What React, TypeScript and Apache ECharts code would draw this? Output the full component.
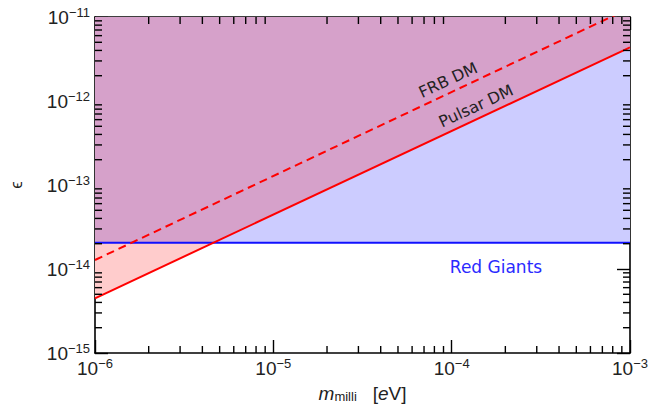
import React, { useEffect, useRef } from "react";
import * as echarts from "echarts";

// ---- data ----
const masses = [1e-6, 1e-3]; // eV
const pulsarEps = [4.48e-15, 4.36e-12];
const frbEps = [1.28e-14, 1.28e-11];
const redGiantEps = 2.05e-14;
const xTickExps = [-6, -5, -4, -3];
const yTickExps = [-15, -14, -13, -12, -11];
const minorMultipliers = [2, 3, 4, 5, 6, 7, 8, 9];

const L = Math.log10;
const FONT = "Liberation Sans, Arial, sans-serif";
const TXT_FONT = "DejaVu Sans, sans-serif";

export default function App() {
  const ref = useRef<HTMLDivElement>(null);
  useEffect(() => {
    if (!ref.current) return;
    const chart = echarts.init(ref.current, null, { renderer: "svg" });

    const xMin = xTickExps[0];
    const xMax = xTickExps[xTickExps.length - 1];
    const yMin = yTickExps[0];
    const yMax = yTickExps[yTickExps.length - 1];

    const pulsar = masses.map((m, i) => [L(m), L(pulsarEps[i])]);
    const frb = masses.map((m, i) => [L(m), L(frbEps[i])]);
    const yRG = L(redGiantEps);
    const rg = [[xMin, yRG], [xMax, yRG]];
    const slope = (pulsar[1][1] - pulsar[0][1]) / (pulsar[1][0] - pulsar[0][0]);
    const xc = pulsar[0][0] + (yRG - pulsar[0][1]) / slope;
    const envelope = [[xMin, yRG], [xc, yRG], pulsar[1]];

    const xMinor: number[][] = [];
    for (let d = xMin; d < xMax; d++)
      minorMultipliers.forEach((k) => xMinor.push([d + L(k), 0]));
    const yMinor: number[][] = [];
    for (let d = yMin; d < yMax; d++)
      minorMultipliers.forEach((k) => yMinor.push([d + L(k), 1]));

    const rich = {
      b: { fontSize: 19, fontFamily: FONT, color: "#222", lineHeight: 22 },
      s: { fontSize: 13, fontFamily: FONT, color: "#222", verticalAlign: "top", lineHeight: 12 },
    };
    const fmt = (v: number) => `{b|10}{s|${String(v).replace("-", "\u2212")}}`;

    const axisCommon = {
      type: "value",
      interval: 1,
      splitLine: { show: false },
      axisLine: { show: true, onZero: false, lineStyle: { color: "#000", width: 1.6 } },
      axisTick: { show: true, inside: true, length: 13, lineStyle: { color: "#000", width: 1.4 } },
    };

    const minorTickLen = 7;

    chart.setOption({
      animation: false,
      grid: { left: 87, right: 30, top: 17, bottom: 56 },
      xAxis: [
        {
          ...axisCommon,
          min: xMin,
          max: xMax,
          position: "bottom",
          axisLabel: { formatter: fmt, rich, margin: 4 },
          name: "{m|m}{sub|milli}{n|   [}{e|e}{n|V]}",
          nameLocation: "middle",
          nameGap: 30,
          nameTextStyle: {
            rich: {
              m: { fontSize: 19, fontStyle: "italic", fontFamily: FONT, color: "#222", verticalAlign: "bottom", lineHeight: 20 },
              sub: { fontSize: 13, fontFamily: FONT, color: "#222", verticalAlign: "bottom", lineHeight: 16 },
              n: { fontSize: 19, fontFamily: FONT, color: "#222", verticalAlign: "bottom", lineHeight: 20 },
              e: { fontSize: 19, fontStyle: "italic", fontFamily: FONT, color: "#222", verticalAlign: "bottom", lineHeight: 20 },
            },
          },
        },
        {
          ...axisCommon,
          min: xMin,
          max: xMax,
          position: "top",
          axisLabel: { show: false },
        },
      ],
      yAxis: [
        {
          ...axisCommon,
          min: yMin,
          max: yMax,
          position: "left",
          axisLabel: { formatter: fmt, rich, margin: 5 },
          name: "\u03f5",
          nameLocation: "middle",
          nameGap: 70,
          nameRotate: 90,
          nameTextStyle: { fontSize: 17, fontFamily: FONT, color: "#222" },
        },
        {
          ...axisCommon,
          min: yMin,
          max: yMax,
          position: "right",
          axisLabel: { show: false },
        },
      ],
      series: [
        {
          type: "line",
          data: pulsar,
          showSymbol: false,
          lineStyle: { width: 0 },
          areaStyle: { color: "#ffcccc", opacity: 1, origin: "end" },
          z: 1,
        },
        {
          type: "line",
          data: rg,
          showSymbol: false,
          lineStyle: { width: 0 },
          areaStyle: { color: "#ccccff", opacity: 1, origin: "end" },
          z: 2,
        },
        {
          type: "line",
          data: envelope,
          showSymbol: false,
          lineStyle: { width: 0 },
          areaStyle: { color: "#d6a1ca", opacity: 1, origin: "end" },
          z: 3,
        },
        {
          type: "line",
          data: rg,
          showSymbol: false,
          lineStyle: { color: "#1010ff", width: 2 },
          z: 5,
        },
        {
          type: "line",
          data: pulsar,
          showSymbol: false,
          lineStyle: { color: "#ff0000", width: 2 },
          z: 6,
        },
        {
          type: "line",
          data: frb,
          showSymbol: false,
          lineStyle: { color: "#ff0000", width: 2, type: [8, 5] },
          z: 6,
        },
        {
          type: "custom",
          data: xMinor.concat(yMinor),
          z: 10,
          clip: false,
          renderItem: (params: any, api: any) => {
            const v = api.value(0);
            const isY = api.value(1) === 1;
            const style = { stroke: "#000", lineWidth: 1.4 };
            if (!isY) {
              const pb = api.coord([v, yMin]);
              const pt = api.coord([v, yMax]);
              return {
                type: "group",
                children: [
                  { type: "line", shape: { x1: pb[0], y1: pb[1], x2: pb[0], y2: pb[1] - minorTickLen }, style },
                  { type: "line", shape: { x1: pt[0], y1: pt[1], x2: pt[0], y2: pt[1] + minorTickLen }, style },
                ],
              };
            }
            const pl = api.coord([xMin, v]);
            const pr = api.coord([xMax, v]);
            return {
              type: "group",
              children: [
                { type: "line", shape: { x1: pl[0], y1: pl[1], x2: pl[0] + minorTickLen, y2: pl[1] }, style },
                { type: "line", shape: { x1: pr[0], y1: pr[1], x2: pr[0] - minorTickLen, y2: pr[1] }, style },
              ],
            };
          },
        },
      ],
      graphic: [
        {
          type: "text",
          x: 448,
          y: 80,
          rotation: 0.435,
          z: 20,
          style: { text: "FRB DM", fontSize: 16, fontFamily: TXT_FONT, fill: "#222", align: "center", verticalAlign: "middle" },
        },
        {
          type: "text",
          x: 476,
          y: 106,
          rotation: 0.435,
          z: 20,
          style: { text: "Pulsar DM", fontSize: 16, fontFamily: TXT_FONT, fill: "#222", align: "center", verticalAlign: "middle" },
        },
        {
          type: "text",
          x: 496,
          y: 267,
          z: 20,
          style: { text: "Red Giants", fontSize: 17, fontFamily: TXT_FONT, fill: "#2a2aff", align: "center", verticalAlign: "middle" },
        },
      ],
    });
    return () => chart.dispose();
  }, []);
  return <div ref={ref} style={{ width: 660, height: 409, position: "absolute", left: 0, top: 0 }} />;
}
